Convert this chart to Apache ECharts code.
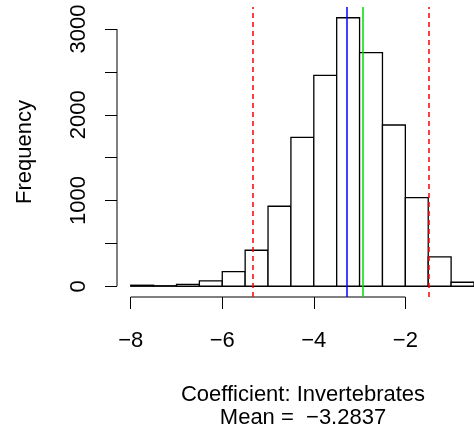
<!DOCTYPE html>
<html>
<head>
<meta charset="utf-8">
<script src="https://cdn.jsdelivr.net/npm/echarts@6/dist/echarts.min.js"></script>
<style>html,body{margin:0;padding:0;background:#fff}#c{width:474px;height:436px}</style>
</head>
<body>
<div id="c"></div>
<script>
// Histogram bins (left and right break of each bar) and counts
var binLeft  = [-8, -7.5, -7, -6.5, -6, -5.5, -5, -4.5, -4, -3.5, -3, -2.5, -2, -1.5, -1];
var binRight = [-7.5, -7, -6.5, -6, -5.5, -5, -4.5, -4, -3.5, -3, -2.5, -2, -1.5, -1, -0.5];
var counts   = [12, 6, 23, 62, 171, 420, 933, 1737, 2460, 3132, 2724, 1881, 1034, 342, 47];
// Reference lines
var lowerCI = -5.34;
var upperCI = -1.49;
var meanVal = -3.2837;
var medianVal = -2.93;
// Axis ticks / labels
var xTicks = [-8, -6, -4, -2];
var yTicks = [0, 500, 1000, 1500, 2000, 2500, 3000];
var yLabels = [0, 1000, 2000, 3000];
var xLabel = 'Coefficient: Invertebrates\nMean =  \u22123.2837';
var yLabel = 'Frequency';

var xMin = -8.3, xMax = -0.5, yMin = -125.3, yMax = 3257.3;
var FONT = 'Liberation Sans, Arial, Helvetica, sans-serif';

var data = binLeft.map(function (l, i) { return [l, binRight[i], counts[i]]; });

var chart = echarts.init(document.getElementById('c'), null, {renderer: 'canvas'});
chart.setOption({
  animation: false,
  backgroundColor: '#ffffff',
  grid: {left: 117, right: 0, top: 7, bottom: 139},
  xAxis: {
    type: 'value', min: xMin, max: xMax,
    name: xLabel, nameLocation: 'middle', nameGap: 86,
    nameTextStyle: {fontFamily: FONT, fontSize: 22, lineHeight: 23, color: '#000', padding: [0, 0, 0, 15]},
    axisLine: {show: false, onZero: false},
    splitLine: {show: false},
    axisTick: {show: true, customValues: xTicks, length: 12, lineStyle: {color: '#000', width: 1}},
    axisLabel: {show: true, customValues: xTicks, margin: 33, fontFamily: FONT, fontSize: 22, color: '#000',
      formatter: function (v) { return String(v).replace('-', '\u2212'); }}
  },
  yAxis: {
    type: 'value', min: yMin, max: yMax,
    name: yLabel, nameLocation: 'middle', nameGap: 81, nameRotate: 90,
    nameTextStyle: {fontFamily: FONT, fontSize: 22, color: '#000'},
    axisLine: {show: false, onZero: false},
    splitLine: {show: false},
    axisTick: {show: true, customValues: yTicks, length: 12, lineStyle: {color: '#000', width: 1}},
    axisLabel: {show: true, customValues: yLabels, rotate: 90, margin: 27, fontFamily: FONT, fontSize: 22, color: '#000',
      formatter: function (v) { return String(v); }}
  },
  series: [
    {
      type: 'custom',
      data: data,
      encode: {x: [0, 1], y: 2},
      renderItem: function (params, api) {
        var p0 = api.coord([api.value(0), api.value(2)]);
        var p1 = api.coord([api.value(1), 0]);
        return {
          type: 'rect',
          shape: {x: p0[0], y: p0[1], width: p1[0] - p0[0], height: p1[1] - p0[1]},
          style: {fill: '#ffffff', stroke: '#000000', lineWidth: 1.3}
        };
      },
      markLine: {
        silent: true, symbol: 'none', label: {show: false},
        data: [
          {xAxis: lowerCI, lineStyle: {color: '#ff0000', type: [5, 4], width: 1.5}},
          {xAxis: upperCI, lineStyle: {color: '#ff0000', type: [5, 4], width: 1.5}},
          {xAxis: meanVal, lineStyle: {color: '#0000ff', type: 'solid', width: 1.5}},
          {xAxis: medianVal, lineStyle: {color: '#00dd00', type: 'solid', width: 1.5}}
        ]
      }
    },
    {
      type: 'line', clip: false, symbol: 'none', silent: true,
      lineStyle: {color: '#000', width: 1},
      data: [[xTicks[0], yMin], [xTicks[xTicks.length - 1], yMin]]
    },
    {
      type: 'line', clip: false, symbol: 'none', silent: true,
      lineStyle: {color: '#000', width: 1},
      data: [[xMin, yTicks[0]], [xMin, yTicks[yTicks.length - 1]]]
    }
  ]
});
</script>
</body>
</html>
